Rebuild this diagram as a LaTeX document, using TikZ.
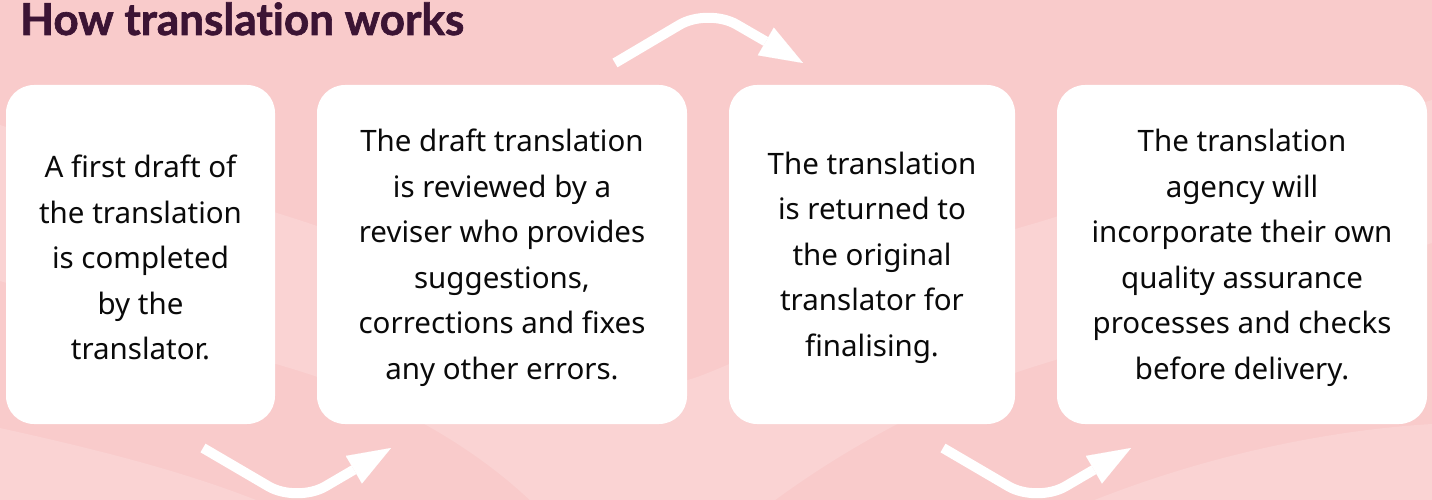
\documentclass[tikz,border=0pt]{standalone}
\usepackage{fontspec}
\setmainfont{Noto Sans}[Ligatures=NoCommon]
\newfontfamily\titlefont{Lato}[Ligatures=NoCommon, BoldFeatures={FakeBold=1.5}]
\usetikzlibrary{arrows.meta}
\definecolor{bgpink}{HTML}{F9CBCB}
\definecolor{lightpink}{HTML}{FAD3D3}
\definecolor{titlecol}{HTML}{3C1434}
\definecolor{textcol}{HTML}{0A0A0A}
\newcommand{\firstlinestrut}{\rule{0pt}{29pt}}
\begin{document}
\begin{tikzpicture}[x=1pt,y=-1pt,
  card/.style={fill=white, rounded corners=28pt, minimum height=339pt, inner sep=0pt,
    align=center, text=textcol, font=\fontsize{29.5}{45.5}\selectfont},
  flow/.style={draw=white, line width=10pt, rounded corners=33pt,
    -{Triangle[length=43pt,width=32pt,line width=0.01pt]}},
  heading/.style={anchor=base west, inner sep=0pt, text=titlecol,
    font=\titlefont\fontsize{44}{50}\selectfont\bfseries}
]
\useasboundingbox (0,0) rectangle (1432,500);
% background
\fill[bgpink] (0,0) rectangle (1432,500);
\begin{scope}
\clip (0,0) rectangle (1432,500);
\fill[lightpink] (0,125) -- (296,219) .. controls (520,290) and (580,420) .. (700,376)
  .. controls (820,330) and (900,260) .. (1036,223) -- (1432,100) -- (1432,243)
  -- (1036,366) .. controls (940,396) and (840,450) .. (762,510) -- (540,510)
  .. controls (470,440) and (380,396) .. (296,370) -- (0,281) -- cycle;
\fill[lightpink] (0,428) .. controls (100,450) and (200,475) .. (280,510) -- (0,510) -- cycle;
\fill[lightpink] (1070,510) .. controls (1200,455) and (1330,430) .. (1432,424) -- (1432,510) -- cycle;
\end{scope}
% title
\node[heading] (title) at (20,35) {How translation works};
% cards
\node[card, minimum width=269pt] (c1) at (140.5,254.5)
  {\firstlinestrut A first draft of\\the translation\\is completed\\by the\\translator.};
\node[card, minimum width=370pt] (c2) at (502,254.5)
  {\firstlinestrut The draft translation\\is reviewed by a\\reviser who provides\\suggestions,\\corrections and fixes\\any other errors.};
\node[card, minimum width=286pt] (c3) at (872,254.5)
  {\firstlinestrut The translation\\is returned to\\the original\\translator for\\finalising.};
\node[card, minimum width=370pt] (c4) at (1242,254.5)
  {\firstlinestrut The translation\\agency will\\incorporate their own\\quality assurance\\processes and checks\\before delivery.};
% arrows
\coordinate (a1s) at (203,448);
\coordinate (a1m) at (297,503);
\coordinate (a1e) at (391,448);
\coordinate (a2s) at (615,63);
\coordinate (a2m) at (708,8);
\coordinate (a2e) at (803,63);
\coordinate (a3s) at (943,448);
\coordinate (a3m) at (1037,503);
\coordinate (a3e) at (1131,448);
\draw[flow] (a1s) -- (a1m) -- (a1e);
\draw[flow] (a2s) -- (a2m) -- (a2e);
\draw[flow] (a3s) -- (a3m) -- (a3e);
\end{tikzpicture}
\end{document}
